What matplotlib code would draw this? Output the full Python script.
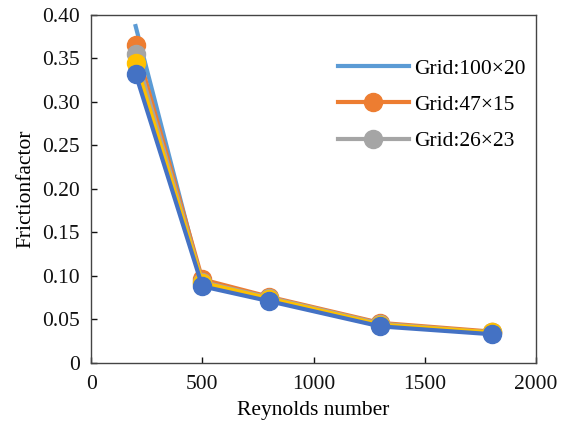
import matplotlib
matplotlib.use("Agg")
import matplotlib.pyplot as plt
from matplotlib.ticker import FuncFormatter

re_vals = [200, 500, 800, 1300, 1800]
grid_100x20 = [0.387, 0.090, 0.073, 0.043, 0.034]
grid_47x15 = [0.365, 0.096, 0.076, 0.046, 0.036]
grid_26x23 = [0.355, 0.093, 0.075, 0.045, 0.035]
grid_yellow = [0.345, 0.092, 0.074, 0.044, 0.035]
grid_blue = [0.332, 0.088, 0.071, 0.042, 0.033]

plt.rcParams['font.family'] = ['Liberation Serif', 'DejaVu Serif']

fig = plt.figure(figsize=(5.66, 4.23), dpi=100)
ax = fig.add_axes([0.161, 0.142, 0.786, 0.823])

lw = 3.0
ms = 13
ax.plot(re_vals, grid_100x20, color='#5B9BD5', lw=lw, label='Grid:100×20', zorder=2)
ax.plot(re_vals, grid_47x15, color='#ED7D31', lw=lw, marker='o', ms=ms, label='Grid:47×15', zorder=3)
ax.plot(re_vals, grid_26x23, color='#A5A5A5', lw=lw, marker='o', ms=ms, label='Grid:26×23', zorder=4)
ax.plot(re_vals, grid_yellow, color='#FFC000', lw=lw, marker='o', ms=ms, label='_nolegend_', zorder=5)
ax.plot(re_vals, grid_blue, color='#4472C4', lw=lw, marker='o', ms=ms, label='_nolegend_', zorder=6)

ax.set_xlim(0, 2000)
ax.set_ylim(0, 0.40)
ax.set_xticks([0, 500, 1000, 1500, 2000])
ax.set_yticks([0, 0.05, 0.10, 0.15, 0.20, 0.25, 0.30, 0.35, 0.40])
ax.yaxis.set_major_formatter(FuncFormatter(lambda v, p: '0' if abs(v) < 1e-9 else f'{v:.2f}'))
ax.tick_params(direction='in', length=4, width=1, labelsize=15.5, colors='#111111')
ax.tick_params(axis='y', pad=8)
ax.tick_params(axis='x', pad=9)
for s in ax.spines.values():
    s.set_color('#444444')
    s.set_linewidth(1.0)

ax.set_xlabel('Reynolds number', fontsize=15.5, labelpad=5)
ax.set_ylabel('Frictionfactor', fontsize=15.5, labelpad=5)

leg = ax.legend(loc='upper right', bbox_to_anchor=(1.02, 0.93), frameon=False, fontsize=15.5,
                handlelength=3.3, handletextpad=0.25, labelspacing=0.75)

fig.savefig('out.png', dpi=100)
